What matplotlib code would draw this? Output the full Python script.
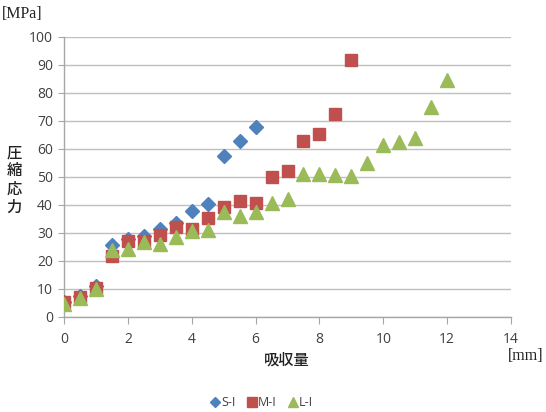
import matplotlib
matplotlib.use("Agg")
import matplotlib.pyplot as plt
from matplotlib.lines import Line2D

# Data
s_x = [0, 0.5, 1, 1.5, 2, 2.5, 3, 3.5, 4, 4.5, 5, 5.5, 6]
s_y = [5.5, 7.5, 11, 25.7, 28, 29, 31.3, 33.5, 37.7, 40.4, 57.6, 63, 67.8]
m_x = [0, 0.5, 1, 1.5, 2, 2.5, 3, 3.5, 4, 4.5, 5, 5.5, 6, 6.5, 7, 7.5, 8, 8.5, 9]
m_y = [5.5, 7.3, 10.3, 21.8, 27.1, 27.1, 29.3, 32.3, 31.4, 35.4, 39.2, 41.5, 40.7, 50, 52, 62.9, 65.5, 72.6, 91.8]
l_x = [0, 0.5, 1, 1.5, 2, 2.5, 3, 3.5, 4, 4.5, 5, 5.5, 6, 6.5, 7, 7.5, 8, 8.5, 9, 9.5, 10, 10.5, 11, 11.5, 12]
l_y = [4.8, 6.8, 10, 23.8, 24.2, 26.9, 25.9, 28.4, 30.6, 31.2, 37.4, 36.2, 37.4, 40.8, 42.2, 51, 51, 50.8, 50.3, 55, 61.3, 62.5, 63.8, 75, 84.6]
series_names = ["S-I", "M-I", "L-I"]
x_ticks = [0, 2, 4, 6, 8, 10, 12, 14]
y_ticks = [0, 10, 20, 30, 40, 50, 60, 70, 80, 90, 100]

c_blue, c_red, c_green = "#4F81BD", "#C0504D", "#9BBB59"

W, H = 546, 412
fig = plt.figure(figsize=(W / 100, H / 100), dpi=100)
ax = fig.add_axes([64 / W, 1 - 317 / H, (511 - 64) / W, (317 - 37) / H])

ax.plot(s_x, s_y, linestyle="none", marker="D", ms=7, color=c_blue, mec=c_blue, label=series_names[0], zorder=3)
ax.plot(m_x, m_y, linestyle="none", marker="s", ms=8.5, color=c_red, mec=c_red, label=series_names[1], zorder=4)
ax.plot(l_x, l_y, linestyle="none", marker="^", ms=9.5, color=c_green, mec=c_green, label=series_names[2], zorder=5)

ax.set_xlim(0, 14)
ax.set_ylim(0, 100)
ax.set_xticks(x_ticks)
ax.set_yticks(y_ticks)
ax.grid(axis="y", color="#BFBFBF", linewidth=1)
ax.set_axisbelow(True)
for side in ["top", "right"]:
    ax.spines[side].set_visible(False)
for side in ["left", "bottom"]:
    ax.spines[side].set_color("#A6A6A6")
    ax.spines[side].set_linewidth(1)
ax.tick_params(axis="x", direction="out", length=5, color="#A6A6A6", labelsize=10, labelcolor="#404040", pad=6)
ax.tick_params(axis="y", direction="out", length=4, color="#A6A6A6", labelsize=10, labelcolor="#404040", pad=4)
for lab in ax.get_xticklabels() + ax.get_yticklabels():
    lab.set_family("Open Sans")

jp = ["Noto Sans CJK JP", "DejaVu Sans"]
fig.text(2 / W, 1 - 14 / H, "[MPa]", family="Liberation Serif", fontsize=11.5, va="center", ha="left", color="#222222")
fig.text(508 / W, 1 - 356 / H, "[mm]", family="Liberation Serif", fontsize=11.5, va="center", ha="left", color="#222222")
fig.text(14 / W, 1 - 180 / H, "圧\n縮\n応\n力", family=jp, fontsize=11, fontweight="medium",
         va="center", ha="center", linespacing=1.1, color="#222222")
fig.text(287 / W, 1 - 360 / H, "吸収量", family=jp, fontsize=11, fontweight="medium",
         va="center", ha="center", color="#222222")

handles = [
    Line2D([], [], linestyle="none", marker="D", ms=5.5, color=c_blue),
    Line2D([], [], linestyle="none", marker="s", ms=7, color=c_red),
    Line2D([], [], linestyle="none", marker="^", ms=7.5, color=c_green),
]
leg = fig.legend(handles, series_names, loc="center", bbox_to_anchor=(262 / W, 1 - 403 / H), ncol=3,
                 frameon=False, handlelength=0.6, handletextpad=0.2, columnspacing=1.0,
                 prop={"family": "Open Sans", "size": 9})
for t in leg.get_texts():
    t.set_color("#404040")

fig.savefig("out.png", dpi=100)
